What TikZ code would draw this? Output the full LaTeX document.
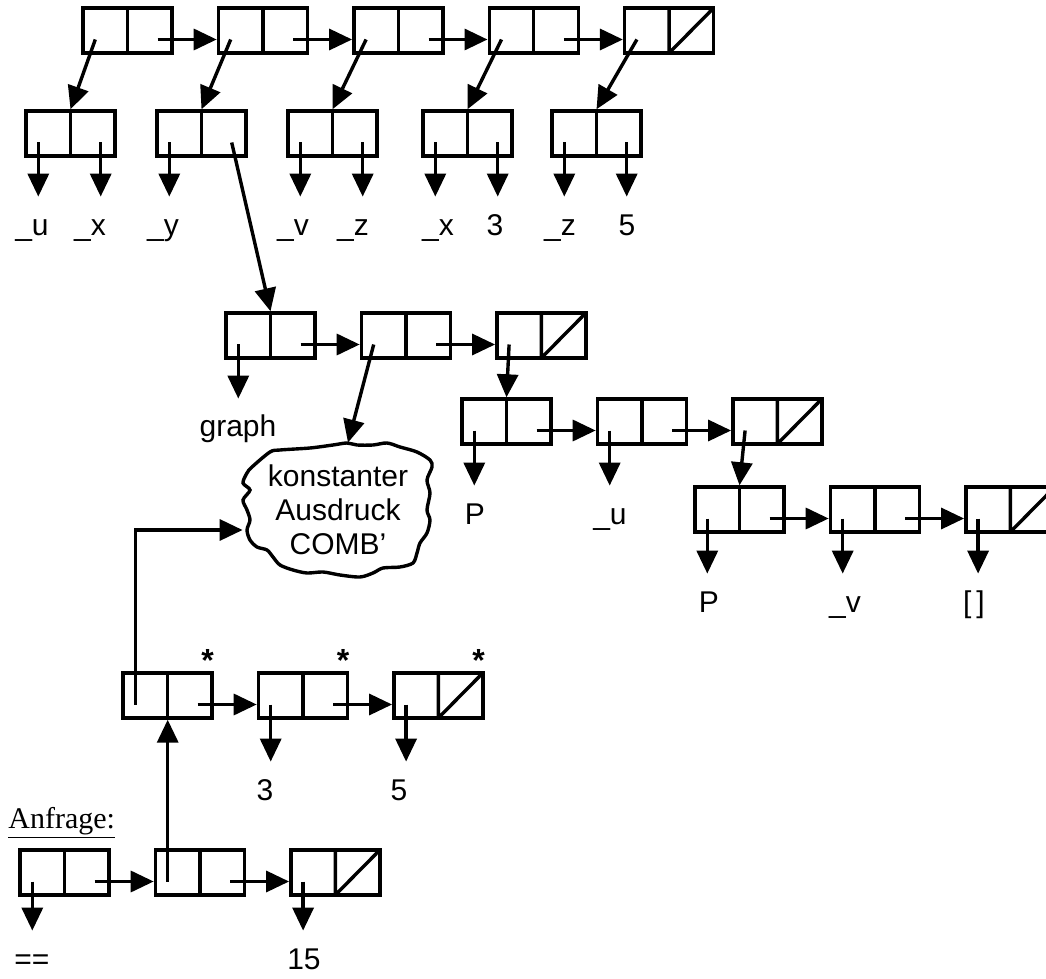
\documentclass[tikz,border=0pt]{standalone}
\usepackage{fontspec}
\setmainfont{Liberation Sans}
\newfontfamily\timesfont{Liberation Serif}
\usetikzlibrary{positioning, arrows.meta}
\tikzset{
	cell/.style={draw, line width=1.7pt, minimum width=44.5pt, minimum height=22.5pt, inner sep=0pt,
		path picture={\draw[line width=1.7pt] (path picture bounding box.north) -- (path picture bounding box.south);}},
	nilcell/.style={cell,
		path picture={\draw[line width=1.7pt] (path picture bounding box.north) -- (path picture bounding box.south) -- (path picture bounding box.north east);}},
	arrow/.style={line width=1.7pt, -{Triangle[length=11.5pt, width=10.5pt]}}
}
\begin{document}
\begin{tikzpicture}[x=0.5pt, y=-0.5pt,
		node distance=21.5pt,
		val/.style={font=\fontsize{15}{17}\selectfont, text height=11pt, text depth=0pt, inner ysep=8pt, inner xsep=0pt, anchor=base},
		starmark/.style={font=\fontsize{16}{17}\selectfont\bfseries, inner sep=0pt, anchor=base},
		blob/.style={line width=1.7pt, smooth cycle, tension=0.5}
		]
		\useasboundingbox (0,0) rectangle (1046,979);

		% Hauptliste
		\node[cell] (t1) at (127.5,30.5) {};
		\node[cell, right=of t1] (t2) {};
		\node[cell, right=of t2] (t3) {};
		\node[cell, right=of t3] (t4) {};
		\node[nilcell, right=of t4] (t5) {};

		\node[cell] (c1) at (70.5,133.5) {};
		\node[cell] (c2) at (201.5,133.5) {};
		\node[cell] (c3) at (332.5,133.5) {};
		\node[cell] (c4) at (467.5,133.5) {};
		\node[cell] (c5) at (596.5,133.5) {};

		% graph(...)
		\node[cell] (m1) at (270.5,335.5) {};
		\node[cell, right=of m1] (m2) {};
		\node[nilcell, right=of m2] (m3) {};

		\node[cell] (p1) at (506.5,421.5) {};
		\node[cell, right=of p1] (p2) {};
		\node[nilcell, right=of p2] (p3) {};

		\node[cell] (q1) at (739.5,509.5) {};
		\node[cell, right=of q1] (q2) {};
		\node[nilcell, right=of q2] (q3) {};

		% Liste mit Sternen
		\node[cell] (s1) at (167.5,695.5) {};
		\node[cell, right=of s1] (s2) {};
		\node[nilcell, right=of s2] (s3) {};

		% Anfrage
		\node[cell] (a1) at (64.5,872.5) {};
		\node[cell, right=of a1] (a2) {};
		\node[nilcell, right=of a2] (a3) {};

		\foreach \n in {t1,t2,t3,t4,t5,c1,c2,c3,c4,c5,m1,m2,m3,p1,p2,p3,q1,q2,q3,s1,s2,s3,a1,a2,a3}{
			\coordinate (\n-a) at ([shift={(14,9)}]\n.west);
			\coordinate (\n-d) at ([shift={(-16,9)}]\n.east);
		}

		\node[align=center, font=\fontsize{15}{17}\selectfont, minimum width=95pt, minimum height=67pt, inner sep=0pt] (cloud) at (338,510) {konstanter\\Ausdruck\\COMB'};
		\draw[blob] plot coordinates {(252,467) (270,452) (280,450) (310,448) (333,445) (347,443) (357,445) (373,445) (387,443) (400,447) (417,452) (430,460) (432,467) (427,480) (430,493) (427,510) (430,520) (427,533) (420,543) (417,553) (413,563) (400,567) (383,568) (373,573) (360,577) (340,575) (323,572) (307,573) (293,570) (280,565) (273,557) (267,550) (257,547) (250,540) (247,530) (250,520) (247,510) (243,500) (250,490) (243,483) (247,473)};

		\node[val] (lu1) at (32,235) {\_u};
		\node[val] (lx1) at (90,235) {\_x};
		\node[val] (ly) at (163,235) {\_y};
		\node[val] (lv1) at (293,235) {\_v};
		\node[val] (lz1) at (353,235) {\_z};
		\node[val] (lx2) at (438,235) {\_x};
		\node[val] (l3a) at (495,235) {3};
		\node[val] (lz2) at (560,235) {\_z};
		\node[val] (l5a) at (627,235) {5};
		\node[val] (lgraph) at (238,437) {graph};
		\node[val] (lp1) at (475,524) {P};
		\node[val] (lu2) at (610,524) {\_u};
		\node[val] (lp2) at (709,612) {P};
		\node[val] (lv2) at (845,612) {\_v};
		\node[val] (lnil) at (974,612) {[\,]};
		\node[val] (l3b) at (265,800) {3};
		\node[val] (l5b) at (399,800) {5};
		\node[val] (leq) at (32,969) {==};
		\node[val] (l15) at (304,969) {15};

		\node[starmark] (st1) at ([xshift=-3pt]s1.north east) {*};
		\node[starmark] (st2) at ([xshift=-3pt]s2.north east) {*};
		\node[starmark] (st3) at ([xshift=-3pt]s3.north east) {*};
		\node[font=\timesfont\fontsize{15}{17}\selectfont, anchor=base west, inner sep=0pt] (anfrage) at (8,828) {\underline{Anfrage:}};

		\draw[arrow] (t1-d) -- (t1-d -| t2.west);
		\draw[arrow] (t2-d) -- (t2-d -| t3.west);
		\draw[arrow] (t3-d) -- (t3-d -| t4.west);
		\draw[arrow] (t4-d) -- (t4-d -| t5.west);
		\draw[arrow] (t1-a) -- (c1.north);
		\draw[arrow] (t2-a) -- (c2.north);
		\draw[arrow] (t3-a) -- (c3.north);
		\draw[arrow] (t4-a) -- (c4.north);
		\draw[arrow] (t5-a) -- (c5.north);

		\draw[arrow] (c1-a) -- (c1-a |- lu1.north);
		\draw[arrow] (c1-d) -- (c1-d |- lx1.north);
		\draw[arrow] (c2-a) -- (c2-a |- ly.north);
		\draw[arrow] (c2-d) -- (m1.north);
		\draw[arrow] (c3-a) -- (c3-a |- lv1.north);
		\draw[arrow] (c3-d) -- (c3-d |- lz1.north);
		\draw[arrow] (c4-a) -- (c4-a |- lx2.north);
		\draw[arrow] (c4-d) -- (c4-d |- l3a.north);
		\draw[arrow] (c5-a) -- (c5-a |- lz2.north);
		\draw[arrow] (c5-d) -- (c5-d |- l5a.north);

		\draw[arrow] (m1-d) -- (m1-d -| m2.west);
		\draw[arrow] (m2-d) -- (m2-d -| m3.west);
		\draw[arrow] (m1-a) -- (m1-a |- lgraph.north);
		\draw[arrow] (m2-a) -- ([xshift=5pt]cloud.north);
		\draw[arrow] (m3-a) -- (p1.north);

		\draw[arrow] (p1-d) -- (p1-d -| p2.west);
		\draw[arrow] (p2-d) -- (p2-d -| p3.west);
		\draw[arrow] (p1-a) -- (p1-a |- lp1.north);
		\draw[arrow] (p2-a) -- (p2-a |- lu2.north);
		\draw[arrow] (p3-a) -- (q1.north);

		\draw[arrow] (q1-d) -- (q1-d -| q2.west);
		\draw[arrow] (q2-d) -- (q2-d -| q3.west);
		\draw[arrow] (q1-a) -- (q1-a |- lp2.north);
		\draw[arrow] (q2-a) -- (q2-a |- lv2.north);
		\draw[arrow] (q3-a) -- (q3-a |- lnil.north);

		\draw[arrow] (s1-a) |- ([yshift=-10pt]cloud.west);
		\draw[arrow] (s1-d) -- (s1-d -| s2.west);
		\draw[arrow] (s2-d) -- (s2-d -| s3.west);
		\draw[arrow] (s2-a) -- (s2-a |- l3b.north);
		\draw[arrow] (s3-a) -- (s3-a |- l5b.north);

		\draw[arrow] (a1-d) -- (a1-d -| a2.west);
		\draw[arrow] (a2-d) -- (a2-d -| a3.west);
		\draw[arrow] (a1-a) -- (a1-a |- leq.north);
		\draw[arrow] (a3-a) -- (a3-a |- l15.north);
		\draw[arrow] (a2-a) -- (a2-a |- s1.south);
	\end{tikzpicture}
\end{document}
